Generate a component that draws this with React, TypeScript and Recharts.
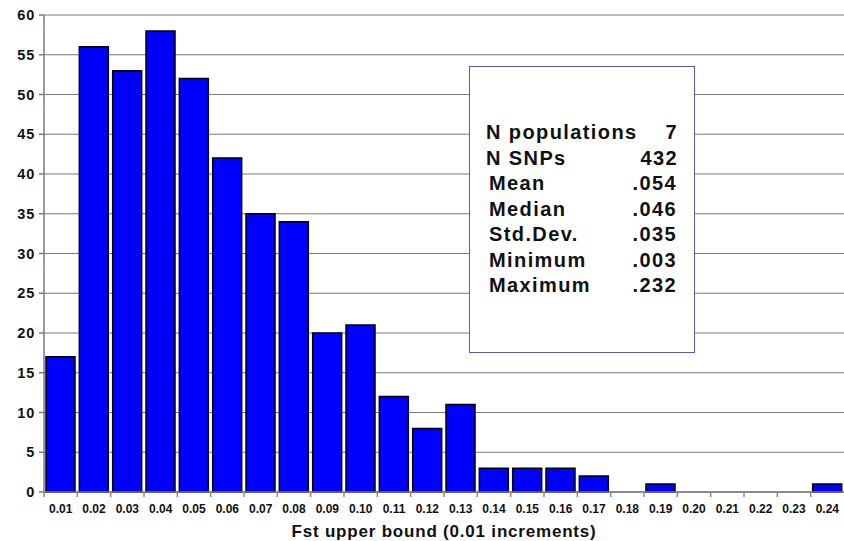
import React from "react";
import { BarChart, Bar, XAxis, YAxis, CartesianGrid } from "recharts";

// Fst-Klassen (Obergrenze) und Anzahl SNPs
const bins = [
  "0.01", "0.02", "0.03", "0.04", "0.05", "0.06", "0.07", "0.08", "0.09", "0.10", "0.11", "0.12",
  "0.13", "0.14", "0.15", "0.16", "0.17", "0.18", "0.19", "0.20", "0.21", "0.22", "0.23", "0.24",
];
const counts = [17, 56, 53, 58, 52, 42, 35, 34, 20, 21, 12, 8, 11, 3, 3, 3, 2, 0, 1, 0, 0, 0, 0, 1];
const yTicks = [0, 5, 10, 15, 20, 25, 30, 35, 40, 45, 50, 55, 60];

const statLabels = ["N populations", "N SNPs", "Mean", "Median", "Std.Dev.", "Minimum", "Maximum"];
const statValues = ["7", "432", ".054", ".046", ".035", ".003", ".232"];

const data = bins.map((b, i) => ({ bin: b, count: counts[i] }));

const font = "Arial, 'Liberation Sans', sans-serif";

// Beschriftung plus kleiner Strich an der linken Klassengrenze
function renderXTick(props: any) {
  const { x, y, payload, width } = props;
  let half = payload && typeof payload.offset === "number" ? payload.offset : 0;
  if (!half && typeof width === "number" && width > 0) half = width / bins.length / 2;
  const edge = x - half;
  return (
    <g key={`xt-${payload.value}`}>
      {half > 0 && <line x1={edge} x2={edge} y1={y - 8} y2={y - 3} stroke="#8a8a8a" strokeWidth={1.5} />}
      <text x={x} y={y + 13} textAnchor="middle" fontSize={12} fontWeight="bold" style={{ fontWeight: 700 }} fill="#111" fontFamily={font}>
        {payload.value}
      </text>
    </g>
  );
}

function renderYTick(props: any) {
  const { x, y, payload } = props;
  return (
    <text key={`yt-${payload.value}`} x={x - 2} y={y + 5} textAnchor="end" fontSize={14.5} fontWeight="bold" letterSpacing={0.8} style={{ fontWeight: 700 }} fill="#111" fontFamily={font}>
      {payload.value}
    </text>
  );
}

const XTitle = ({ viewBox }: any) => (
  <text
    x={viewBox.x + viewBox.width / 2}
    y={537}
    textAnchor="middle"
    fontSize={17}
    fontWeight="bold"
    letterSpacing={0.8}
    style={{ fontWeight: 700 }}
    fill="#111"
    fontFamily={font}
  >
    Fst upper bound (0.01 increments)
  </text>
);

export default function App() {
  return (
    <div style={{ position: "absolute", left: 0, top: 0, width: 844, height: 541, background: "#fff", fontFamily: font }}>
      <BarChart width={844} height={541} data={data} margin={{ top: 15, right: 0, left: 0, bottom: 0 }} barCategoryGap="6%">
        <CartesianGrid vertical={false} stroke="#7a7a7a" strokeWidth={1.2} />
        <XAxis
          dataKey="bin"
          interval={0}
          height={49}
          stroke="#7a7a7a"
          strokeWidth={1.5}
          tickLine={false}
          tick={renderXTick}
          label={<XTitle />}
        />
        <YAxis
          width={44}
          domain={[0, 60]}
          ticks={yTicks}
          stroke="#7a7a7a"
          strokeWidth={1.5}
          tickSize={5}
          tick={renderYTick}
        />
        <Bar dataKey="count" fill="#0000ff" stroke="#000" strokeWidth={1.5} isAnimationActive={false} />
      </BarChart>

      {/* Statistik-Kasten */}
      <div
        style={{
          position: "absolute",
          left: 469,
          top: 66,
          width: 226,
          height: 287,
          border: "1.5px solid #5a5ab4",
          background: "#fff",
          boxSizing: "border-box",
          padding: "53px 16px 0 16px",
          fontSize: 20,
          fontWeight: 700,
          letterSpacing: 1.4,
          color: "#111",
          lineHeight: "25.5px",
        }}
      >
        {statLabels.map((lab, i) => (
          <div key={lab} style={{ display: "flex", justifyContent: "space-between", paddingLeft: i > 1 ? 3 : 0, paddingRight: i > 1 ? 1 : 0 }}>
            <span>{lab}</span>
            <span>{statValues[i]}</span>
          </div>
        ))}
      </div>
    </div>
  );
}
